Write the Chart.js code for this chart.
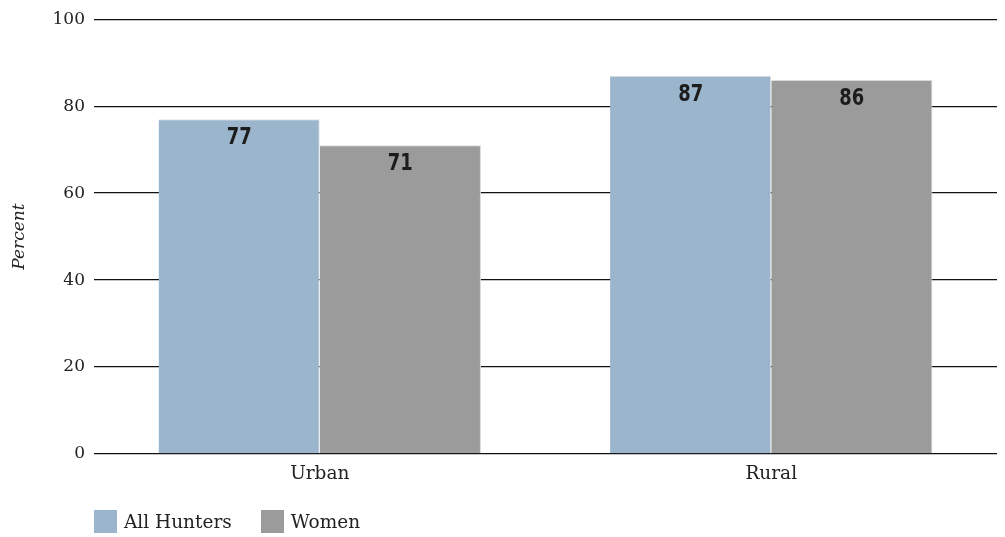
<!DOCTYPE html>
<html>
<head>
<meta charset="utf-8">
<script src="https://cdn.jsdelivr.net/npm/chart.js@4"></script>
<style>
  html, body { margin: 0; padding: 0; background: #fff; }
  #wrap { width: 1005px; height: 537px; position: relative; }
  #legend { position: absolute; left: 94px; top: 510px; display: flex; align-items: center;
    font-family: 'DejaVu Serif', 'Liberation Serif', serif; font-size: 18.5px; color: #222; }
  #legend span.box { display: inline-block; width: 23px; height: 23px; margin-right: 7px; }
  #legend span.item { display: flex; align-items: center; margin-right: 29px; }
</style>
</head>
<body>
<div id="wrap"><canvas id="chart"></canvas><div id="legend"></div></div>
<script>
const categories = ["Urban", "Rural"];
const allHunters = [77, 87];
const women = [71, 86];
const yTicks = [0, 20, 40, 60, 80, 100];
const seriesNames = ["All Hunters", "Women"];
const seriesColors = ["#9bb5cc", "#9b9b9b"];

const SERIF = "'DejaVu Serif', 'Liberation Serif', serif";

// value labels drawn inside the top of each bar, squeezed to look condensed
const barLabels = {
  id: "barLabels",
  afterDatasetsDraw(chart) {
    const ctx = chart.ctx;
    chart.data.datasets.forEach((ds, i) => {
      chart.getDatasetMeta(i).data.forEach((bar, j) => {
        ctx.save();
        ctx.translate(bar.x, bar.y + 19);
        ctx.scale(0.78, 1);
        ctx.font = "bold 23px 'DejaVu Sans', 'Liberation Sans', sans-serif";
        ctx.fillStyle = "#1c1c1c";
        ctx.textAlign = "center";
        ctx.textBaseline = "middle";
        ctx.fillText(String(ds.data[j]), 0, 0);
        ctx.restore();
      });
    });
  },
};

const chart = new Chart(document.getElementById("chart"), {
  type: "bar",
  data: {
    labels: categories,
    datasets: [
      { label: seriesNames[0], data: allHunters, backgroundColor: seriesColors[0], borderColor: "#dde5ec", borderWidth: { top: 1, left: 0, right: 1, bottom: 0 } },
      { label: seriesNames[1], data: women, backgroundColor: seriesColors[1], borderColor: "#d8d8d8", borderWidth: { top: 1, left: 0, right: 1, bottom: 0 } },
    ],
  },
  options: {
    responsive: true, maintainAspectRatio: false, animation: false,
    layout: { padding: { top: 10, right: 8, left: 9, bottom: 53 } },
    datasets: { bar: { categoryPercentage: 0.714, barPercentage: 1 } },
    scales: {
      x: {
        grid: { display: false },
        border: { display: false },
        afterFit: (scale) => { scale.height = 30; },
        ticks: { color: "#222", font: { family: SERIF, size: 18.5 }, padding: 1 },
      },
      y: {
        min: 0, max: 100,
        afterBuildTicks: (scale) => { scale.ticks = yTicks.map((v) => ({ value: v })); },
        afterFit: (scale) => { scale.width = 85; },
        grid: { color: "#111", lineWidth: 1.3, drawTicks: false },
        border: { display: false },
        ticks: { color: "#222", font: { family: SERIF, size: 17 }, padding: 9 },
        title: { display: true, text: "Percent", color: "#222", font: { family: SERIF, size: 17, style: "italic" }, padding: 0 },
      },
    },
    plugins: {
      legend: { display: false },
      tooltip: { enabled: false },
    },
  },
  plugins: [barLabels],
});

const legendEl = document.getElementById("legend");
seriesNames.forEach((name, i) => {
  const item = document.createElement("span");
  item.className = "item";
  item.innerHTML = `<span class="box" style="background:${seriesColors[i]}"></span>${name}`;
  legendEl.appendChild(item);
});
</script>
</body>
</html>
